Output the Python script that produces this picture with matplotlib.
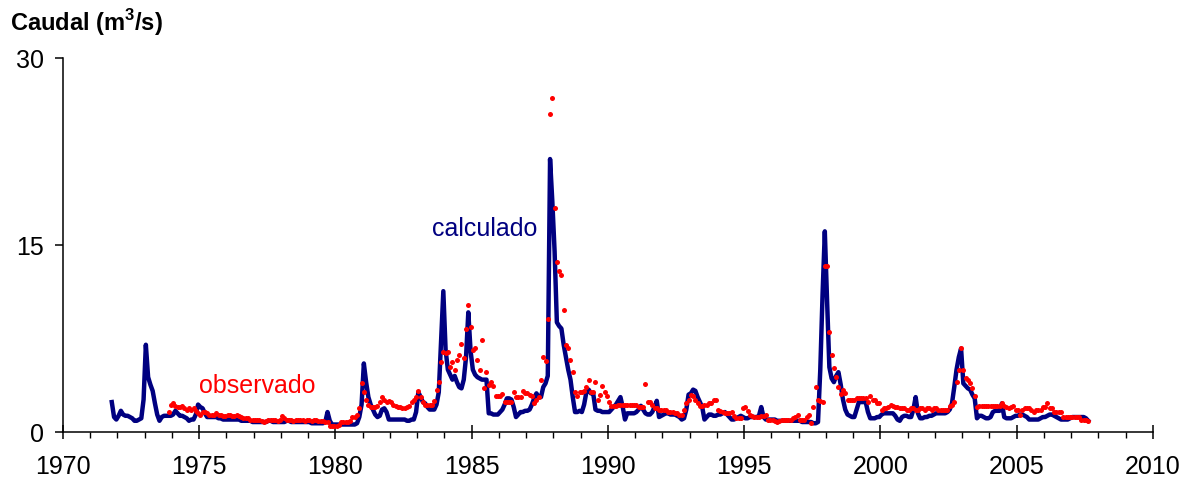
import numpy as np
import matplotlib
matplotlib.use("Agg")
import matplotlib.pyplot as plt
from matplotlib.ticker import MultipleLocator

plt.rcParams['font.family'] = ['Liberation Sans', 'DejaVu Sans']
plt.rcParams['mathtext.fontset'] = 'custom'
plt.rcParams['mathtext.rm'] = 'Liberation Sans'
plt.rcParams['mathtext.bf'] = 'Liberation Sans:bold'

# Monthly flow (m3/s); series start month
calc_start = (1971, 10)
calc_values = [
    2.4, 1.2, 1.0,                                                    # 1971 (Oct-Dec)
    1.3, 1.7, 1.4, 1.3, 1.3, 1.2, 1.1, 0.9, 0.9, 1.0, 1.1, 2.6,       # 1972
    7.0, 4.4, 3.8, 3.3, 2.3, 1.4, 0.9, 1.2, 1.3, 1.3, 1.3, 1.3,       # 1973
    1.4, 1.7, 1.5, 1.3, 1.3, 1.2, 1.1, 0.9, 1.0, 1.0, 1.4, 2.2,       # 1974
    2.0, 1.9, 1.5, 1.2, 1.2, 1.2, 1.2, 1.2, 1.1, 1.1, 1.0, 1.0,       # 1975
    1.0, 1.0, 1.0, 1.0, 1.0, 1.0, 0.9, 0.9, 0.9, 0.9, 0.9, 0.8,       # 1976
    0.8, 0.8, 0.8, 0.8, 0.8, 0.8, 0.9, 0.9, 0.8, 0.8, 0.8, 0.8,       # 1977
    0.8, 0.8, 0.9, 0.9, 0.8, 0.8, 0.8, 0.8, 0.8, 0.8, 0.8, 0.8,       # 1978
    0.8, 0.7, 0.7, 0.7, 0.7, 0.7, 0.7, 0.8, 1.6, 0.9, 0.6, 0.6,       # 1979
    0.6, 0.6, 0.6, 0.6, 0.6, 0.6, 0.6, 0.6, 0.6, 0.7, 1.2, 2.2,       # 1980
    5.5, 4.0, 2.8, 2.2, 1.8, 1.4, 1.2, 1.3, 1.8, 1.9, 1.6, 1.0,       # 1981
    1.0, 1.0, 1.0, 1.0, 1.0, 1.0, 1.0, 0.9, 0.9, 1.0, 1.0, 1.6,       # 1982
    3.2, 2.8, 2.4, 2.3, 2.0, 1.8, 1.8, 1.8, 2.2, 3.2, 7.2, 11.3,      # 1983
    6.6, 5.0, 4.6, 4.2, 4.5, 4.0, 3.6, 3.5, 4.2, 6.0, 9.6, 6.5,       # 1984
    5.0, 4.6, 4.4, 4.3, 4.2, 4.2, 4.2, 1.5, 1.5, 1.4, 1.4, 1.4,       # 1985
    1.6, 1.8, 2.2, 2.7, 2.7, 2.6, 2.0, 1.2, 1.4, 1.6, 1.6, 1.7,       # 1986
    1.7, 1.8, 2.2, 2.7, 3.1, 2.8, 2.8, 3.6, 3.9, 4.5, 21.9, 18.5,     # 1987
    14.5, 8.8, 8.5, 8.3, 7.0, 6.0, 5.0, 4.2, 2.8, 1.6, 1.6, 1.7,      # 1988
    1.6, 2.2, 3.2, 3.4, 3.1, 3.1, 1.8, 1.7, 1.7, 1.6, 1.6, 1.6,       # 1989
    1.6, 1.8, 2.0, 2.2, 2.5, 2.8, 2.0, 1.0, 1.5, 1.5, 1.5, 1.5,       # 1990
    1.6, 1.8, 2.1, 1.8, 1.5, 1.4, 1.4, 1.6, 2.0, 2.5, 1.2, 1.3,       # 1991
    1.4, 1.5, 1.5, 1.4, 1.4, 1.4, 1.3, 1.2, 1.0, 1.1, 1.8, 3.0,       # 1992
    3.1, 3.4, 3.3, 2.8, 2.4, 2.0, 1.0, 1.2, 1.4, 1.4, 1.3, 1.3,       # 1993
    1.4, 1.4, 1.5, 1.6, 1.4, 1.2, 1.0, 1.0, 1.1, 1.2, 1.3, 1.2,       # 1994
    1.1, 1.1, 1.2, 1.2, 1.2, 1.2, 1.3, 2.0, 1.2, 1.0, 1.0, 1.0,       # 1995
    1.0, 1.0, 0.9, 0.9, 0.9, 0.9, 0.9, 0.9, 0.9, 0.9, 0.9, 0.9,       # 1996
    0.9, 0.8, 0.8, 0.8, 0.8, 0.8, 0.7, 0.7, 0.8, 5.0, 11.0, 16.1,     # 1997
    10.5, 5.2, 4.3, 4.0, 4.5, 4.8, 3.8, 2.6, 1.8, 1.4, 1.3, 1.2,      # 1998
    1.2, 1.8, 2.4, 2.4, 2.4, 2.4, 1.6, 1.1, 1.1, 1.1, 1.2, 1.2,       # 1999
    1.4, 1.5, 1.5, 1.5, 1.5, 1.5, 1.3, 1.0, 0.9, 1.2, 1.3, 1.3,       # 2000
    1.2, 1.2, 1.8, 2.8, 1.5, 1.1, 1.1, 1.2, 1.2, 1.3, 1.3, 1.4,       # 2001
    1.5, 1.5, 1.5, 1.5, 1.5, 1.6, 1.8, 2.3, 3.6, 5.0, 6.0, 6.7,       # 2002
    3.9, 3.7, 3.5, 3.4, 3.0, 2.7, 1.1, 1.3, 1.3, 1.2, 1.1, 1.1,       # 2003
    1.2, 1.6, 1.7, 1.7, 1.7, 2.3, 1.2, 1.1, 1.1, 1.1, 1.2, 1.3,       # 2004
    1.3, 1.4, 1.4, 1.3, 1.2, 1.0, 1.0, 1.0, 1.0, 1.0, 1.1, 1.2,       # 2005
    1.2, 1.3, 1.4, 1.4, 1.3, 1.2, 1.1, 1.0, 1.0, 1.0, 1.0, 1.1,       # 2006
    1.2, 1.2, 1.2, 1.2, 1.2, 1.2, 1.1, 0.9,                           # 2007 (Jan-Aug)
]

obs_start = (1973, 11)
obs_values = [
    1.6, 2.2,                                                         # 1973 (Nov-Dec)
    2.3, 2.1, 2.0, 2.0, 2.1, 1.9, 1.8, 1.9, 1.8, 1.9, 1.7, 1.5,       # 1974
    1.4, 1.6, 1.6, 1.5, 1.4, 1.4, 1.4, 1.5, 1.4, 1.4, 1.3, 1.3,       # 1975
    1.4, 1.4, 1.3, 1.3, 1.4, 1.3, 1.2, 1.1, 1.1, 1.1, 1.0, 1.0,       # 1976
    1.0, 1.0, 1.0, 0.9, 0.8, 0.9, 1.0, 1.0, 1.0, 1.0, 0.9, 1.0,       # 1977
    1.3, 1.1, 1.0, 1.0, 1.0, 0.9, 1.0, 1.0, 1.0, 1.0, 0.9, 1.0,       # 1978
    1.0, 0.9, 1.0, 1.0, 0.9, 0.9, 0.9, 0.8, 0.8, 0.5, 0.5, 0.5,       # 1979
    0.5, 0.6, 0.8, 0.8, 0.8, 0.8, 0.9, 1.2, 1.2, 1.4, 1.9, 3.9,       # 1980
    3.2, 2.6, 2.2, 2.0, 2.0, 2.0, 2.1, 2.4, 2.8, 2.6, 2.4, 2.5,       # 1981
    2.4, 2.2, 2.1, 2.0, 2.0, 1.9, 1.9, 2.0, 2.1, 2.4, 2.6, 2.8,       # 1982
    3.3, 2.8, 2.4, 2.2, 2.2, 2.2, 2.2, 2.5, 3.4, 4.0, 5.6, 6.4,       # 1983
    6.3, 6.4, 5.2, 5.6, 5.0, 5.8, 6.2, 7.1, 5.9, 8.3, 10.2, 8.4,      # 1984
    6.6, 6.7, 5.8, 5.0, 7.4, 3.5, 4.8, 3.8, 4.0, 3.7, 2.9, 2.9,       # 1985
    2.9, 3.05, 2.4, 2.4, 2.4, 2.4, 3.2, 2.8, 2.8, 2.8, 3.3, 3.1,      # 1986
    3.1, 3.0, 2.9, 2.3, 2.6, 2.8, 4.2, 6.0, 5.7, 9.1, 25.5, 26.8,     # 1987
    18.0, 13.6, 12.9, 12.6, 9.8, 7.0, 6.7, 5.8, 4.8, 3.2, 2.9, 3.2,   # 1988
    3.2, 3.3, 3.6, 4.2, 3.2, 3.2, 4.0, 2.6, 3.0, 3.7, 3.2, 2.9,       # 1989
    2.4, 2.1, 2.1, 2.1, 2.2, 2.2, 2.2, 2.2, 2.2, 2.2, 2.2, 2.2,       # 1990
    2.2, 2.0, 2.0, 2.0, 3.85, 2.4, 2.4, 2.2, 1.9, 1.9, 1.8, 1.8,      # 1991
    1.8, 1.8, 1.6, 1.6, 1.6, 1.5, 1.5, 1.4, 1.4, 1.8, 2.3, 2.6,       # 1992
    3.0, 2.9, 2.6, 2.3, 2.1, 2.1, 2.2, 2.2, 2.3, 2.35, 2.6, 2.6,      # 1993
    1.8, 1.7, 1.6, 1.5, 1.5, 1.5, 1.6, 1.3, 1.1, 1.1, 1.1, 1.9,       # 1994
    2.0, 1.7, 1.4, 1.3, 1.2, 1.2, 1.2, 1.3, 1.3, 1.4, 1.0, 1.0,       # 1995
    1.0, 0.9, 0.8, 0.9, 1.0, 1.0, 1.0, 1.0, 1.0, 1.1, 1.2, 1.4,       # 1996
    1.0, 1.0, 1.0, 1.2, 1.4, 0.7, 2.0, 3.6, 2.6, 2.5, 2.4, 13.3,      # 1997
    13.3, 8.0, 6.2, 5.1, 4.4, 3.6, 3.05, 3.4, 3.15, 2.6, 2.6, 2.6,    # 1998
    2.6, 2.7, 2.7, 2.7, 2.7, 2.7, 2.4, 2.9, 2.6, 2.6, 2.3, 2.3,       # 1999
    1.8, 1.9, 1.9, 2.0, 2.2, 2.1, 2.0, 2.0, 1.9, 1.9, 1.9, 1.8,       # 2000
    1.8, 1.9, 1.9, 1.8, 1.8, 1.9, 1.9, 1.8, 1.9, 1.9, 1.8, 1.9,       # 2001
    1.9, 1.8, 1.8, 1.8, 1.8, 1.8, 2.1, 2.2, 2.4, 4.0, 5.0, 6.7,       # 2002
    5.0, 4.3, 4.2, 3.9, 3.5, 2.9, 2.0, 2.1, 2.1, 2.1, 2.1, 2.1,       # 2003
    2.1, 2.1, 2.1, 2.1, 2.1, 2.3, 2.1, 2.0, 1.9, 2.0, 2.1, 1.8,       # 2004
    1.8, 1.4, 1.8, 1.9, 1.9, 1.9, 1.8, 1.6, 1.75, 1.75, 1.75, 2.0,    # 2005
    2.0, 2.3, 1.9, 1.9, 1.6, 1.6, 1.6, 1.6, 1.2, 1.2, 1.2, 1.2,       # 2006
    1.2, 1.2, 1.2, 1.2, 1.0, 1.0, 1.0, 0.9,                           # 2007 (Jan-Aug)
]


def month_times(start, n):
    """Decimal year at mid-month for n consecutive months."""
    y, m = start
    idx = np.arange(n) + (m - 1)
    return y + (idx + 0.5) / 12.0


t_calc = month_times(calc_start, len(calc_values))
t_obs = month_times(obs_start, len(obs_values))

FS = 18

fig = plt.figure(figsize=(11.88, 4.8), dpi=100)
ax = fig.add_axes([0.053, 0.1, 0.9175, 0.779])

ax.plot(t_calc, calc_values, color='#000080', lw=3.2, solid_joinstyle='round', zorder=2)
ax.plot(t_obs, obs_values, 'o', color='#ff0000', ms=3.6, mec='none', zorder=3)

ax.set_xlim(1970, 2010)
ax.set_ylim(0, 30)
ax.set_xticks(np.arange(1970, 2011, 5))
ax.xaxis.set_minor_locator(MultipleLocator(1))
ax.set_yticks([0, 15, 30])

for s in ['top', 'right']:
    ax.spines[s].set_visible(False)
for s in ['left', 'bottom']:
    ax.spines[s].set_linewidth(1.1)

ax.tick_params(axis='x', which='major', direction='inout', length=9.5, width=1.1,
               labelsize=FS, pad=12)
ax.tick_params(axis='x', which='minor', direction='out', length=4, width=1.0)
ax.tick_params(axis='y', which='major', direction='out', length=6, width=1.1,
               labelsize=FS, pad=8)

ax.text(1983.55, 16.3, 'calculado', color='#000080', fontsize=FS, va='center', ha='left')
ax.text(1975.0, 3.7, 'observado', color='#ff0000', fontsize=FS, va='center', ha='left')

fig.text(0.008, 0.952, r'Caudal (m$^{\mathbf{3}}$/s)', fontsize=17, fontweight='bold',
         va='center', ha='left')

fig.savefig('out.png', dpi=100)
